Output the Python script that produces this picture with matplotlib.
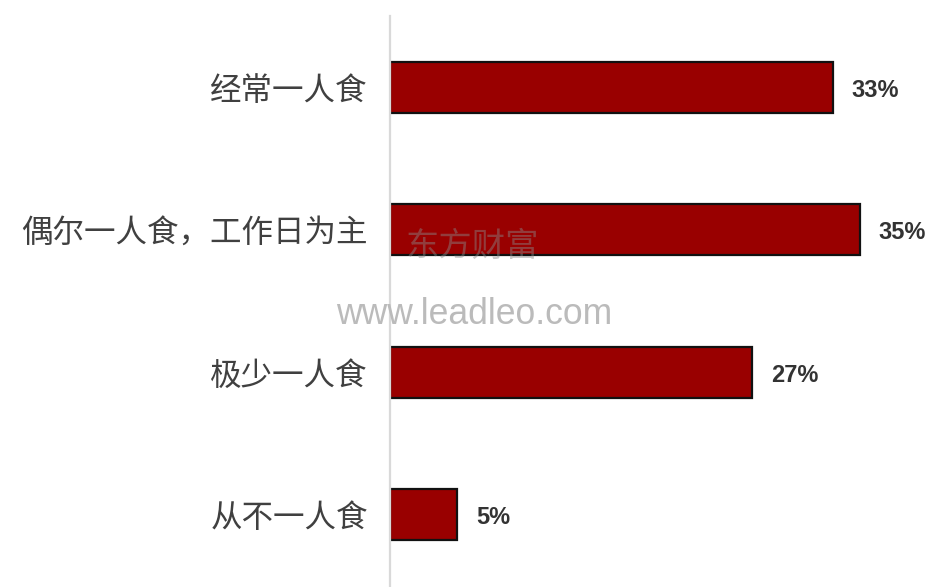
import matplotlib
matplotlib.use("Agg")
import matplotlib.pyplot as plt

plt.rcParams['font.family'] = ['Noto Sans CJK SC', 'DejaVu Sans']

categories = ["经常一人食", "偶尔一人食，工作日为主", "极少一人食", "从不一人食"]
values = [33, 35, 27, 5]
value_labels = ["33%", "35%", "27%", "5%"]

W, H = 935, 587
fig = plt.figure(figsize=(W / 100, H / 100), dpi=100)
ax_left = 390 / W
ax_right = 927 / W
ax_bottom = 1 / H
ax_top = (H - 16) / H
ax = fig.add_axes([ax_left, ax_bottom, ax_right - ax_left, ax_top - ax_bottom])

ypos = list(range(len(categories)))
ax.barh(ypos, values, height=0.355, color="#990000", edgecolor="#111111", linewidth=1.6)
ax.set_xlim(0, 40)
ax.set_ylim(3.5, -0.5)

for y, v, lab in zip(ypos, values, value_labels):
    ax.text(v + 1.4, y + 0.02, lab, va="center", ha="left", fontsize=17, fontweight="bold",
            color="#333333", family=["Liberation Sans", "DejaVu Sans"])

ax.set_yticks(ypos)
ax.set_yticklabels(categories, fontsize=22.7, color="#404040")
ax.tick_params(axis="y", length=0, pad=16)
ax.set_xticks([])
for s in ["top", "right", "bottom"]:
    ax.spines[s].set_visible(False)
ax.spines["left"].set_color("#d9d9d9")
ax.spines["left"].set_linewidth(1.6)
ax.spines["left"].set_clip_on(False)

# watermarks
fig.text(472 / W, 1 - 246 / H, "东方财富", fontsize=24, color="#888888", alpha=0.45,
         ha="center", va="center")
fig.text(474 / W, 1 - 314 / H, "www.leadleo.com", fontsize=25.6, color="#bbbbbb",
         ha="center", va="center", family=["Liberation Sans", "DejaVu Sans"])

fig.savefig("out.png", dpi=100)
